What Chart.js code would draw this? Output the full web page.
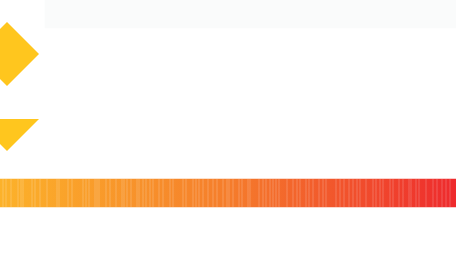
<!DOCTYPE html>
<html lang="en">
<head>
    <meta charset="UTF-8">
    <title>Diamonds and stripe band</title>
    <script src="https://cdn.jsdelivr.net/npm/chart.js"></script>
    <style>
        html, body { margin: 0; padding: 0; background: #ffffff; }
        canvas { display: block; }
    </style>
</head>
<body>
    <canvas id="myChart" width="456" height="254"></canvas>

    <script>
        // diamond marks: centre x, centre y (in the 0..456 / 0..254 plot space)
        const diamondX = [7];
        const diamondY = [54];
        const halfDiamondX = [7];
        const halfDiamondY = [119];
        const diamondSize = 32;

        // the gradient band: start / end along x, centre row
        const bandRange = [0, 456];
        const bandRow = 193;
        const bandStops = ['#FCB22A', '#F57D2B', '#EE2A2D'];

        // lighter pin-stripes inside the band (x positions)
        const stripeX = [3, 6, 11, 18, 21, 23, 32, 35, 40, 47, 57, 59, 68, 72, 83, 86, 89, 95, 97, 99,
            106, 110, 116, 122, 124, 127, 131, 137, 139, 143, 146, 150, 153, 159, 163, 170, 173, 183,
            186, 193, 196, 199, 203, 208, 213, 217, 223, 227, 229, 233, 239, 242, 248, 250, 259, 263,
            266, 270, 273, 276, 279, 287, 293, 297, 300, 306, 309, 313, 319, 323, 326, 336, 340, 344,
            349, 353, 357, 360, 366, 373, 376, 380, 383, 390, 393, 399, 403, 409, 411, 416, 419, 426,
            433, 437, 442, 446, 450];

        // faint header strip at the top
        const headerRange = [45, 456];
        const headerRow = 14;

        // bottom half of a diamond, used as an image point style
        const halfDiamond = document.createElement('canvas');
        halfDiamond.width = diamondSize * 2;
        halfDiamond.height = diamondSize * 2;
        const hctx = halfDiamond.getContext('2d');
        hctx.fillStyle = '#FFC61E';
        hctx.beginPath();
        hctx.moveTo(0, diamondSize);
        hctx.lineTo(diamondSize * 2, diamondSize);
        hctx.lineTo(diamondSize, diamondSize * 2);
        hctx.closePath();
        hctx.fill();

        function bandGradient(context) {
            const {chart} = context;
            const area = chart.chartArea;
            if (!area) return bandStops[0];
            const g = chart.ctx.createLinearGradient(area.left, 0, area.right, 0);
            g.addColorStop(0, bandStops[0]);
            g.addColorStop(0.5, bandStops[1]);
            g.addColorStop(1, bandStops[2]);
            return g;
        }

        const ctx = document.getElementById('myChart').getContext('2d');
        const myChart = new Chart(ctx, {
            type: 'scatter',
            data: {
                datasets: [
                    {
                        type: 'bar',
                        indexAxis: 'y',
                        grouped: false,
                        data: [{ y: headerRow, x: headerRange }],
                        backgroundColor: '#FAFBFB',
                        barThickness: 28,
                        borderWidth: 0,
                        order: 5
                    },
                    {
                        type: 'bar',
                        indexAxis: 'y',
                        grouped: false,
                        data: [{ y: bandRow, x: bandRange }],
                        backgroundColor: bandGradient,
                        barThickness: 28,
                        borderWidth: 0,
                        order: 4
                    },
                    {
                        data: stripeX.map(x => ({ x: x, y: bandRow })),
                        pointStyle: 'line',
                        rotation: 90,
                        radius: 14,
                        borderWidth: 1,
                        borderColor: 'rgba(255, 255, 255, 0.22)',
                        order: 3
                    },
                    {
                        data: diamondX.map((x, i) => ({ x: x, y: diamondY[i] })),
                        pointStyle: 'rectRot',
                        radius: diamondSize,
                        borderWidth: 0,
                        backgroundColor: '#FFC61E',
                        order: 2
                    },
                    {
                        data: halfDiamondX.map((x, i) => ({ x: x, y: halfDiamondY[i] })),
                        pointStyle: halfDiamond,
                        radius: diamondSize,
                        borderWidth: 0,
                        order: 1
                    }
                ]
            },
            options: {
                responsive: false,
                animation: false,
                events: [],
                layout: { padding: 0, autoPadding: false },
                plugins: {
                    legend: { display: false },
                    tooltip: { enabled: false }
                },
                scales: {
                    x: { type: 'linear', min: 0, max: 456, offset: false, display: false },
                    y: { type: 'linear', min: 0, max: 254, reverse: true, offset: false, display: false }
                }
            }
        });
    </script>
</body>
</html>
